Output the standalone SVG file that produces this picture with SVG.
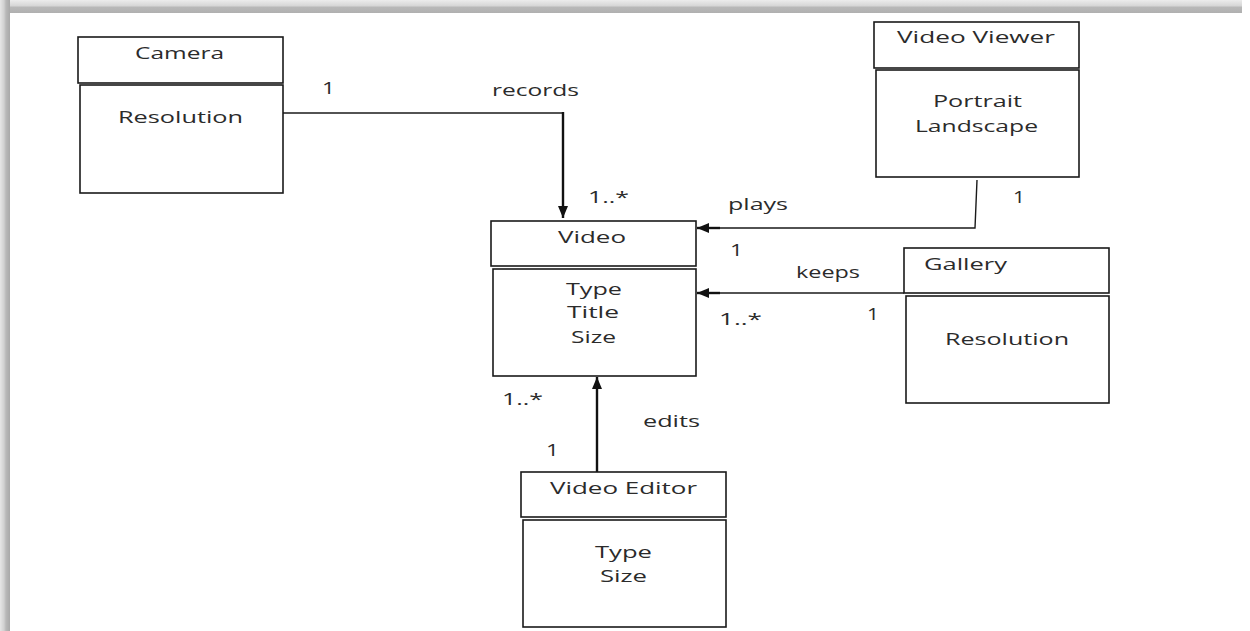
<svg xmlns="http://www.w3.org/2000/svg" width="1250" height="631" viewBox="0 0 1250 631">
  <defs>
    <style>
      .box { fill: #ffffff; stroke: #1a1a1a; stroke-width: 1.6; }
      .lbl { font-family: "Open Sans", "Liberation Sans", sans-serif; font-size: 16px; fill: #2b2b2b; }
      .wire { fill: none; stroke: #1a1a1a; stroke-width: 1.4; }
      .wire-bold { fill: none; stroke: #111111; stroke-width: 2.4; }
    </style>
    <marker id="head" viewBox="0 0 12 10" refX="12" refY="5" markerWidth="12" markerHeight="10" markerUnits="userSpaceOnUse" orient="auto">
      <path d="M0,0 L12,5 L0,10 Z" fill="#111111"/>
    </marker>
    <linearGradient id="topBand" x1="0" y1="0" x2="0" y2="1">
      <stop offset="0" stop-color="#ececec"/>
      <stop offset="0.45" stop-color="#d6d6d6"/>
      <stop offset="0.55" stop-color="#b8b8b8"/>
      <stop offset="1" stop-color="#b0b0b0"/>
    </linearGradient>
    <linearGradient id="leftBand" x1="0" y1="0" x2="1" y2="0">
      <stop offset="0" stop-color="#e6e6e6"/>
      <stop offset="0.4" stop-color="#d0d0d0"/>
      <stop offset="0.6" stop-color="#b8b8b8"/>
      <stop offset="1" stop-color="#a8a8a8"/>
    </linearGradient>
  </defs>

  <!-- page background and shadowed frame edges -->
  <rect x="0" y="0" width="1250" height="631" fill="#ffffff"/>
  <rect x="0" y="0" width="1242" height="13" fill="url(#topBand)"/>
  <rect x="0" y="0" width="10" height="631" fill="url(#leftBand)"/>

  <!-- connectors -->
  <g id="connectors">
    <line class="wire" x1="280" y1="113" x2="563" y2="113"/>
    <line class="wire-bold" x1="563" y1="112" x2="563" y2="218" marker-end="url(#head)"/>
    <polyline class="wire" points="977,180 975,228 720,228"/>
    <line class="wire-bold" x1="720" y1="228" x2="697" y2="228" marker-end="url(#head)"/>
    <line class="wire" x1="904" y1="293" x2="720" y2="293"/>
    <line class="wire-bold" x1="720" y1="293" x2="697" y2="293" marker-end="url(#head)"/>
    <line class="wire-bold" x1="597" y1="472" x2="597" y2="377" marker-end="url(#head)"/>
  </g>

  <!-- association labels and multiplicities -->
  <g id="labels">
    <text class="lbl" x="492" y="96" textLength="87" lengthAdjust="spacingAndGlyphs">records</text>
    <text class="lbl" x="322" y="94" textLength="13" lengthAdjust="spacingAndGlyphs">1</text>
    <text class="lbl" x="588" y="203" textLength="41" lengthAdjust="spacingAndGlyphs">1..*</text>
    <text class="lbl" x="728" y="210" textLength="60" lengthAdjust="spacingAndGlyphs">plays</text>
    <text class="lbl" x="730" y="256" textLength="13" lengthAdjust="spacingAndGlyphs">1</text>
    <text class="lbl" x="1013" y="203" textLength="12" lengthAdjust="spacingAndGlyphs">1</text>
    <text class="lbl" x="796" y="278" textLength="64" lengthAdjust="spacingAndGlyphs">keeps</text>
    <text class="lbl" x="719" y="325" textLength="43" lengthAdjust="spacingAndGlyphs">1..*</text>
    <text class="lbl" x="867" y="320" textLength="12" lengthAdjust="spacingAndGlyphs">1</text>
    <text class="lbl" x="502" y="405" textLength="41" lengthAdjust="spacingAndGlyphs">1..*</text>
    <text class="lbl" x="643" y="427" textLength="57" lengthAdjust="spacingAndGlyphs">edits</text>
    <text class="lbl" x="546" y="456" textLength="13" lengthAdjust="spacingAndGlyphs">1</text>
  </g>

  <!-- Camera -->
  <g id="camera">
    <rect class="box" x="78" y="37" width="205" height="46"/>
    <rect class="box" x="80" y="85" width="203" height="108"/>
    <text class="lbl" x="135" y="59" textLength="89" lengthAdjust="spacingAndGlyphs">Camera</text>
    <text class="lbl" x="118" y="123" textLength="125" lengthAdjust="spacingAndGlyphs">Resolution</text>
  </g>

  <!-- Video -->
  <g id="video">
    <rect class="box" x="491" y="221" width="205" height="45"/>
    <rect class="box" x="493" y="269" width="203" height="107"/>
    <text class="lbl" x="558" y="243" textLength="68" lengthAdjust="spacingAndGlyphs">Video</text>
    <text class="lbl" x="566" y="295" textLength="56" lengthAdjust="spacingAndGlyphs">Type</text>
    <text class="lbl" x="567" y="318" textLength="52" lengthAdjust="spacingAndGlyphs">Title</text>
    <text class="lbl" x="571" y="343" textLength="45" lengthAdjust="spacingAndGlyphs">Size</text>
  </g>

  <!-- Video Viewer -->
  <g id="video-viewer">
    <rect class="box" x="874" y="22" width="205" height="46"/>
    <rect class="box" x="876" y="70" width="203" height="107"/>
    <text class="lbl" x="897" y="43" textLength="158" lengthAdjust="spacingAndGlyphs">Video Viewer</text>
    <text class="lbl" x="933" y="107" textLength="89" lengthAdjust="spacingAndGlyphs">Portrait</text>
    <text class="lbl" x="915" y="132" textLength="123" lengthAdjust="spacingAndGlyphs">Landscape</text>
  </g>

  <!-- Gallery -->
  <g id="gallery">
    <rect class="box" x="904" y="248" width="205" height="45"/>
    <rect class="box" x="906" y="296" width="203" height="107"/>
    <text class="lbl" x="924" y="270" textLength="83" lengthAdjust="spacingAndGlyphs">Gallery</text>
    <text class="lbl" x="945" y="345" textLength="124" lengthAdjust="spacingAndGlyphs">Resolution</text>
  </g>

  <!-- Video Editor -->
  <g id="video-editor">
    <rect class="box" x="521" y="472" width="205" height="45"/>
    <rect class="box" x="523" y="520" width="203" height="107"/>
    <text class="lbl" x="550" y="494" textLength="147" lengthAdjust="spacingAndGlyphs">Video Editor</text>
    <text class="lbl" x="595" y="558" textLength="57" lengthAdjust="spacingAndGlyphs">Type</text>
    <text class="lbl" x="600" y="582" textLength="47" lengthAdjust="spacingAndGlyphs">Size</text>
  </g>
</svg>
